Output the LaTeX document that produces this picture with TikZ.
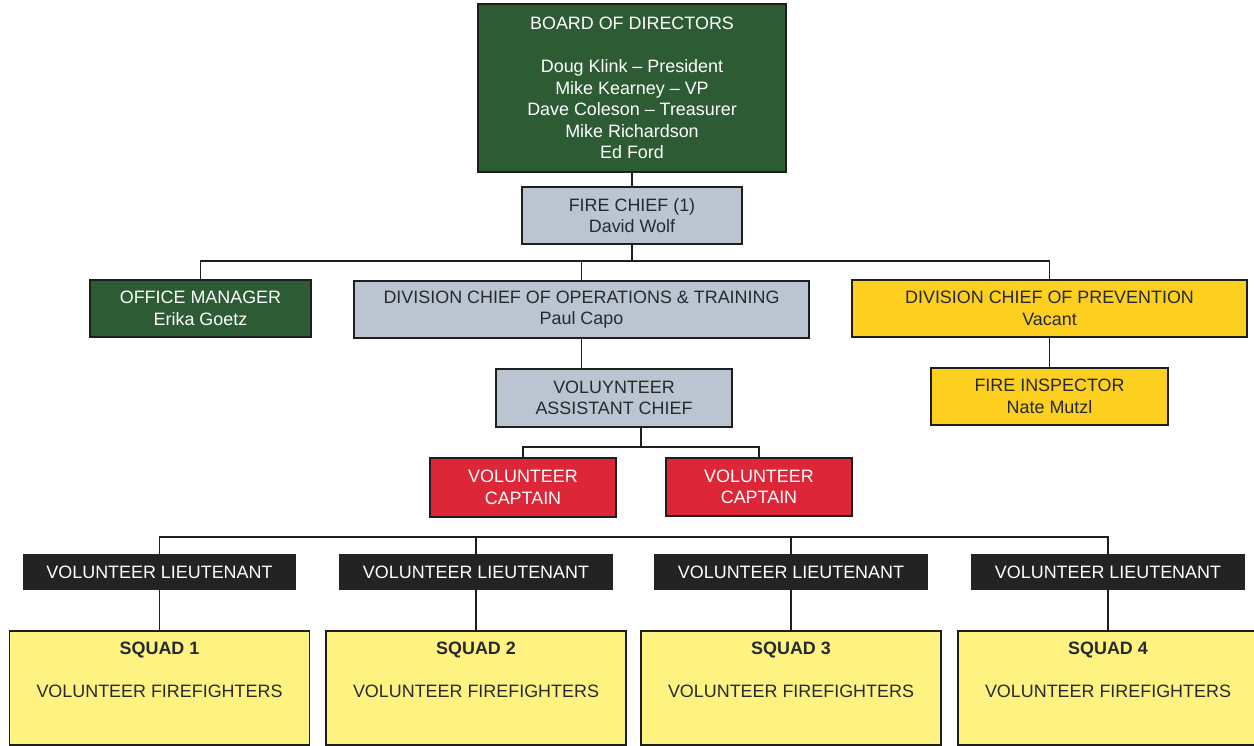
\documentclass[tikz,border=0pt]{standalone}
\usepackage{fontspec}
\setmainfont{Liberation Sans}
\usepackage{tikz}
\usetikzlibrary{positioning}
\usepackage{xcolor}
\definecolor{boardgreen}{HTML}{2D5B34}
\definecolor{chiefgrey}{HTML}{BAC5D1}
\definecolor{prevyellow}{HTML}{FDCF1F}
\definecolor{captred}{HTML}{DE2639}
\definecolor{ltblack}{HTML}{232323}
\definecolor{squadyellow}{HTML}{FEF281}
\definecolor{edge}{HTML}{1E1E1E}
\definecolor{ink}{HTML}{262A30}
\newcommand{\chartfont}{\fontsize{10.2pt}{12.3pt}\selectfont}

\begin{document}
\begin{tikzpicture}[x=0.02cm, y=-0.02cm, font=\chartfont,
    block/.style={draw=edge, rectangle, line width=1.1pt, align=center, inner sep=0pt},
    greenbox/.style={block, fill=boardgreen, text=white},
    greybox/.style={block, fill=chiefgrey, text=ink, minimum height=1.14cm},
    goldbox/.style={block, fill=prevyellow, text=ink, minimum height=1.14cm},
    redbox/.style={block, fill=captred, text=white, minimum width=3.71cm, minimum height=1.17cm},
    ltbox/.style={rectangle, fill=ltblack, text=white, align=center, minimum width=5.48cm, minimum height=0.72cm},
    squadbox/.style={block, fill=squadyellow, minimum width=6cm, minimum height=2.28cm},
    squadtext/.style={align=center, text=ink, inner sep=0pt},
    line/.style={draw=edge, line width=0.9pt}
]
    \useasboundingbox (0,0) rectangle (1254,746);

    % top of the chart
    \node [greenbox, minimum width=6.16cm, minimum height=3.36cm] (board) at (632,88)
        {BOARD OF DIRECTORS\\[12.3pt]Doug Klink – President\\Mike Kearney – VP\\Dave Coleson – Treasurer\\Mike Richardson\\Ed Ford};
    \node [greybox, minimum width=4.4cm] (chief) at (632,215.5) {FIRE CHIEF (1)\\David Wolf};

    % staff and divisions
    \node [greenbox, minimum width=4.42cm, minimum height=1.14cm] (office) at (200.5,308.5) {OFFICE MANAGER\\Erika Goetz};
    \node [greybox, minimum width=9.1cm] (ops) at (581.5,309.5) {DIVISION CHIEF OF OPERATIONS \& TRAINING\\Paul Capo};
    \node [goldbox, minimum width=7.9cm] (prev) at (1049.5,308.5) {DIVISION CHIEF OF PREVENTION\\Vacant};
    \node [goldbox, minimum width=4.74cm] (insp) at (1049.5,396.5) {FIRE INSPECTOR\\Nate Mutzl};
    \node [greybox, minimum width=4.72cm, minimum height=1.16cm] (asst) at (614,398) {VOLUYNTEER\\ASSISTANT CHIEF};

    % captains
    \node [redbox] (captA) at (523,487.5) {VOLUNTEER\\CAPTAIN};
    \node [redbox] (captB) at (759,487) {VOLUNTEER\\CAPTAIN};

    % lieutenants and squads
    \node [ltbox] (lt1) at (159.5,572) {VOLUNTEER LIEUTENANT};
    \node [ltbox] (lt2) at (476,572) {VOLUNTEER LIEUTENANT};
    \node [ltbox] (lt3) at (791,572) {VOLUNTEER LIEUTENANT};
    \node [ltbox] (lt4) at (1108,572) {VOLUNTEER LIEUTENANT};

    \node [squadbox] (sq1) at (159.5,688) {};
    \node [squadbox] (sq2) at (476,688) {};
    \node [squadbox] (sq3) at (791,688) {};
    \node [squadbox] (sq4) at (1108,688) {};
    \node [squadtext, below=0.23cm of sq1.north] (sq1t) {\textbf{SQUAD 1}\\[12pt]VOLUNTEER FIREFIGHTERS};
    \node [squadtext, below=0.23cm of sq2.north] (sq2t) {\textbf{SQUAD 2}\\[12pt]VOLUNTEER FIREFIGHTERS};
    \node [squadtext, below=0.23cm of sq3.north] (sq3t) {\textbf{SQUAD 3}\\[12pt]VOLUNTEER FIREFIGHTERS};
    \node [squadtext, below=0.23cm of sq4.north] (sq4t) {\textbf{SQUAD 4}\\[12pt]VOLUNTEER FIREFIGHTERS};

    % connectors
    \coordinate (barA) at (632,261);
    \coordinate (barB) at (641,447);
    \coordinate (barC) at (632,537);

    \path [line] (board) -- (chief);
    \path [line] (chief.south) -- (barA);
    \path [line] (office.north) |- (prev.north |- barA) -- (prev.north);
    \path [line] (ops.north) -- (ops.north |- barA);
    \path [line] (ops.south) -- (ops.south |- asst.north);
    \path [line] (prev) -- (insp);
    \path [line] (barB) -- (barB |- asst.south);
    \path [line] (captA.north) |- (captB.north |- barB) -- (captB.north);
    \path [line] (lt1.north) |- (lt4.north |- barC) -- (lt4.north);
    \path [line] (lt2.north) -- (lt2.north |- barC);
    \path [line] (lt3.north) -- (lt3.north |- barC);
    \path [line] (lt1) -- (sq1);
    \path [line] (lt2) -- (sq2);
    \path [line] (lt3) -- (sq3);
    \path [line] (lt4) -- (sq4);
\end{tikzpicture}
\end{document}
